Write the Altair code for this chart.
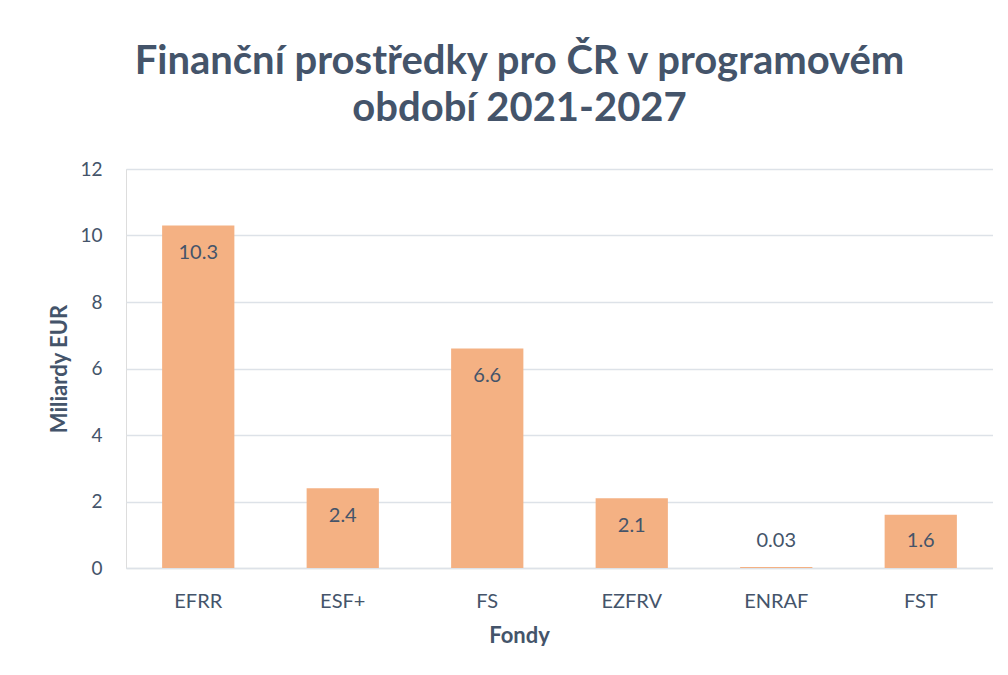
import altair as alt
import pandas as pd

funds = ["EFRR", "ESF+", "FS", "EZFRV", "ENRAF", "FST"]
values = [10.3, 2.4, 6.6, 2.1, 0.03, 1.6]
labels = ["10.3", "2.4", "6.6", "2.1", "0.03", "1.6"]

df = pd.DataFrame({"fond": funds, "value": values, "label": labels})

TXT = "#44546A"
FONT = "Lato"

x_enc = alt.X("fond:N", sort=funds, title="Fondy",
              scale=alt.Scale(paddingInner=0.5, paddingOuter=0.25),
              axis=alt.Axis(labelAngle=0, labelFontSize=20, labelColor=TXT, labelFont=FONT,
                            labelPadding=23, titleFontSize=22, titleFont=FONT, titleColor=TXT,
                            titleFontWeight="bold", titlePadding=14, titleX=393,
                            titleAlign="center", ticks=False,
                            domainColor="#DDE2E8", domainWidth=1.5, grid=False))

bars = alt.Chart(df).mark_bar(color="#F4B183").encode(
    x=x_enc,
    y=alt.Y("value:Q", title="Miliardy EUR",
            scale=alt.Scale(domain=[0, 12]),
            axis=alt.Axis(values=[0, 2, 4, 6, 8, 10, 12], labelFontSize=19, labelColor=TXT,
                          labelFont=FONT, labelPadding=24, ticks=False, domain=False,
                          gridColor="#DDE2E8", gridWidth=1.5,
                          titleFontSize=22, titleFont=FONT, titleColor=TXT,
                          titleFontWeight="bold", titlePadding=8)),
)

text = alt.Chart(df).transform_calculate(
    ly="max(datum.value - 0.84, 0.81)"
).mark_text(fontSize=20, font=FONT, color=TXT, baseline="middle").encode(
    x=alt.X("fond:N", sort=funds),
    y=alt.Y("ly:Q"),
    text="label:N",
)

chart = alt.layer(bars, text).properties(
    width=867,
    height=399,
    padding={"left": 40, "top": 34, "right": 0, "bottom": 0},
    title=alt.TitleParams(
        text=["Finanční prostředky pro ČR v programovém", "období 2021-2027"],
        fontSize=40, font=FONT, fontWeight="bold", color=TXT,
        anchor="middle", frame="group", dx=-40, offset=31, lineHeight=47,
    ),
).configure_view(stroke=None).configure(background="white")

chart.save("out.html", embed_options={"renderer": "svg", "actions": False})
